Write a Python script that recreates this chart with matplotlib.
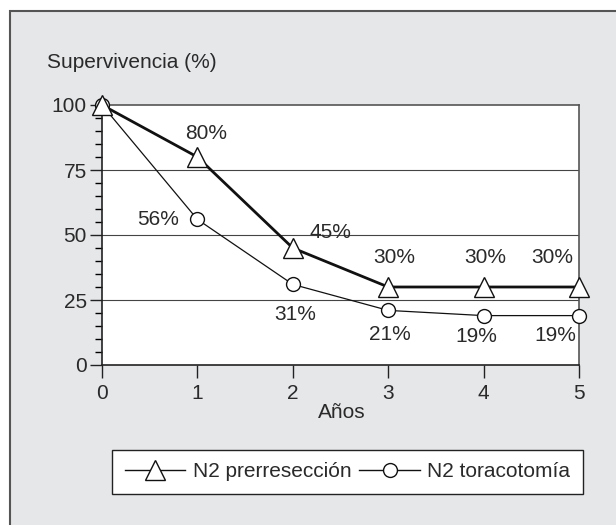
import matplotlib
matplotlib.use('Agg')
import matplotlib.pyplot as plt
from matplotlib.patches import Rectangle

plt.rcParams['font.family'] = ['Liberation Sans', 'DejaVu Sans']

years = [0, 1, 2, 3, 4, 5]
prerreseccion = [100, 80, 45, 30, 30, 30]
toracotomia = [100, 56, 31, 21, 19, 19]
pre_labels = ['', '80%', '45%', '30%', '30%', '30%']
tor_labels = ['', '56%', '31%', '21%', '19%', '19%']
# label offsets in points
pre_off = [(0, 0), (6, 17), (27, 11), (4, 21), (1, 21), (-19, 21)]
tor_off = [(0, 0), (-28, 0), (2, -22), (1, -17), (-5, -15), (-17, -14)]

fs = 15
txt = '#2a2a2a'
fig = plt.figure(figsize=(6.16, 5.25), dpi=100)
fig.patches.append(Rectangle((10 / 616, -0.01), 1.0, 1 - 11 / 525 + 0.01,
                             transform=fig.transFigure, facecolor='#e6e7e9',
                             edgecolor='#555555', linewidth=1.5, zorder=-5))

ax = fig.add_axes([102 / 616, 1 - 365 / 525, 477 / 616, 260 / 525])
ax.set_zorder(2)
ax.set_facecolor('white')
ax.set_xlim(0, 5)
ax.set_ylim(0, 100)
for y in [25, 50, 75]:
    ax.axhline(y, color='#444444', linewidth=0.8, zorder=1)

ax.plot(years, toracotomia, color='#111111', linewidth=0.9, marker='o',
        markersize=10, markerfacecolor='white', markeredgecolor='#111111',
        markeredgewidth=1.0, label='N2 toracotomía', zorder=3, clip_on=False)
ax.plot(years, prerreseccion, color='#111111', linewidth=2.0, marker='^',
        markersize=14, markerfacecolor='white', markeredgecolor='#111111',
        markeredgewidth=1.0, label='N2 prerresección', zorder=4, clip_on=False)

for x, y, s, o in zip(years, prerreseccion, pre_labels, pre_off):
    if s:
        ax.annotate(s, (x, y), xytext=o, textcoords='offset points',
                    ha='center', va='center', fontsize=fs, color=txt)
for x, y, s, o in zip(years, toracotomia, tor_labels, tor_off):
    if s:
        ax.annotate(s, (x, y), xytext=o, textcoords='offset points',
                    ha='center', va='center', fontsize=fs, color=txt)

ax.set_xticks(years)
ax.set_yticks([0, 25, 50, 75, 100])
ax.set_yticks(range(0, 101, 5), minor=True)
ax.tick_params(axis='both', direction='out', labelsize=fs, labelcolor=txt,
               color='#222222', width=1.0)
ax.tick_params(axis='y', which='major', length=9, pad=2)
ax.tick_params(axis='y', which='minor', length=5, width=1.0)
ax.tick_params(axis='x', which='major', length=9, pad=5)
for side in ['left', 'bottom']:
    ax.spines[side].set_color('#222222')
    ax.spines[side].set_linewidth(1.2)
for side in ['top', 'right']:
    ax.spines[side].set_color('#555555')
    ax.spines[side].set_linewidth(1.2)

fig.text(47 / 616, 1 - 62 / 525, 'Supervivencia (%)', fontsize=fs, color=txt,
         ha='left', va='center')
fig.text(342 / 616, 1 - 413 / 525, 'Años', fontsize=fs, color=txt,
         ha='center', va='center')

handles, labels = ax.get_legend_handles_labels()
leg = fig.legend(handles[::-1], labels[::-1], loc='center',
                 bbox_to_anchor=(347.5 / 616, 1 - 471.5 / 525), ncol=2,
                 fontsize=fs, frameon=True, fancybox=False, framealpha=1,
                 edgecolor='#222222', handlelength=2.9, columnspacing=0.4,
                 handletextpad=0.35, borderpad=0.6, labelcolor=txt)
leg.get_frame().set_linewidth(1.0)
for line in leg.get_lines():
    line.set_linewidth(1.0)

plt.savefig('out.png', dpi=100)
